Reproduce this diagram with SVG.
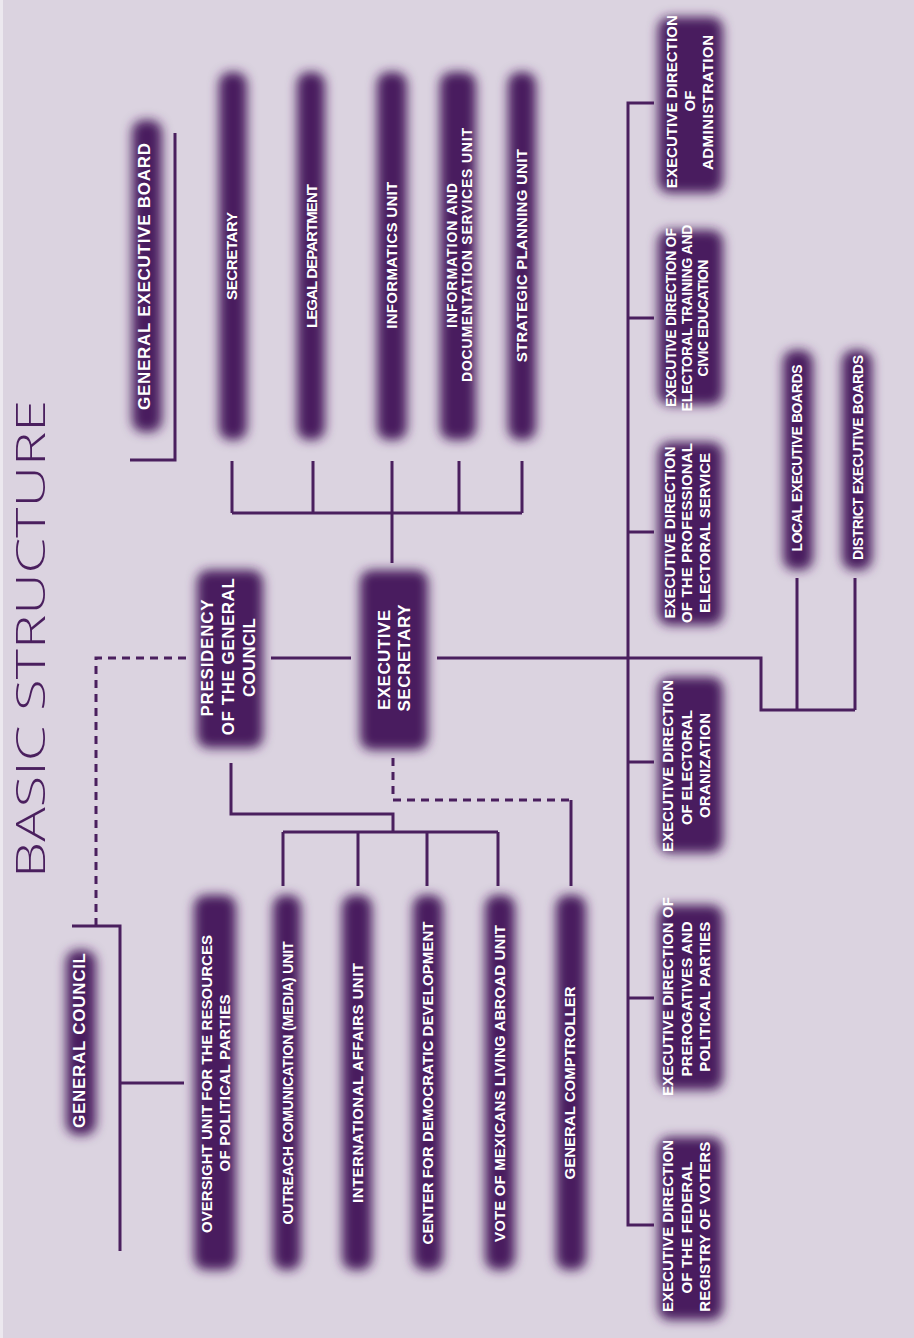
<svg xmlns="http://www.w3.org/2000/svg" width="914" height="1338" viewBox="0 0 914 1338">
<defs>
<filter id="soft" x="-0.8" y="-0.25" width="2.6" height="1.5">
<feGaussianBlur stdDeviation="5.5"/>
</filter>
<style>
.box{fill:#4a1b5e;filter:url(#soft);}
.t{font-family:"Liberation Sans",Arial,sans-serif;font-weight:bold;fill:#ffffff;text-anchor:middle;}
.ln{stroke:#4a1f5e;stroke-width:3;fill:none;}
.dash{stroke-dasharray:8 6;}
.title{font-family:"Open Sans","Liberation Sans",sans-serif;font-weight:300;fill:#4a1f5e;text-anchor:middle;}
</style>
</defs>
<rect x="0" y="0" width="914" height="1338" fill="#dbd3e0"/>
<rect x="0" y="0" width="3" height="1338" fill="#ece8ef"/>

<text class="title" font-size="41" transform="translate(45,639) rotate(-90)" textLength="478" lengthAdjust="spacingAndGlyphs">BASIC STRUCTURE</text>

<g id="connectors">
<path class="ln" d="M175,133 V460 H130"/>
<path class="ln" d="M232,461 V513 M313,461 V513 M392,461 V563 M459,461 V513 M522,461 V513 M232,513 H522"/>
<path class="ln" d="M271,658 H351"/>
<path class="ln" d="M437,658 H761 V710 H855 M797,578 V710 M855,578 V710"/>
<path class="ln dash" d="M186,658 H96 V926"/>
<path class="ln" d="M72,926 H120 V1251 M120,1083 H184"/>
<path class="ln" d="M231,763 V814 H393 V832 M283,832 H498 M283,832 V886 M358,832 V886 M427,832 V886 M498,832 V886"/>
<path class="ln dash" d="M393,758 V800 H571"/>
<path class="ln" d="M571,800 V886"/>
<path class="ln" d="M654,103 H628 V1225 H654 M628,318 H654 M628,532 H654 M628,762 H654 M628,998 H654"/>
</g>

<g id="general-executive-board">
<rect class="box" x="132" y="120" width="30" height="312" rx="12"/>
<text class="t" font-size="17" transform="translate(149.5,276.5) rotate(-90)" textLength="267" lengthAdjust="spacing">GENERAL EXECUTIVE BOARD</text>
</g>
<g id="secretary">
<rect class="box" x="219" y="72" width="28" height="368" rx="12"/>
<text class="t" font-size="15" transform="translate(237.3,256) rotate(-90)" textLength="88" lengthAdjust="spacing">SECRETARY</text>
</g>
<g id="legal-department">
<rect class="box" x="297" y="72" width="28" height="368" rx="12"/>
<text class="t" font-size="15" transform="translate(317.3,256) rotate(-90)" textLength="144" lengthAdjust="spacing">LEGAL DEPARTMENT</text>
</g>
<g id="informatics-unit">
<rect class="box" x="377" y="72" width="30" height="368" rx="12"/>
<text class="t" font-size="15" transform="translate(396.7,255.3) rotate(-90)" textLength="147" lengthAdjust="spacing">INFORMATICS UNIT</text>
</g>
<g id="information-documentation">
<rect class="box" x="440" y="72" width="36" height="368" rx="12"/>
<text class="t" font-size="14" transform="translate(456.7,255.5) rotate(-90)" textLength="145" lengthAdjust="spacing">INFORMATION AND</text>
<text class="t" font-size="14" transform="translate(471.7,255) rotate(-90)" textLength="254" lengthAdjust="spacing">DOCUMENTATION SERVICES UNIT</text>
</g>
<g id="strategic-planning">
<rect class="box" x="508" y="72" width="28" height="368" rx="12"/>
<text class="t" font-size="15" transform="translate(526.7,255.7) rotate(-90)" textLength="213" lengthAdjust="spacing">STRATEGIC PLANNING UNIT</text>
</g>

<g id="presidency">
<rect class="box" x="197" y="570" width="66" height="178" rx="12"/>
<text class="t" font-size="17" transform="translate(213.3,658) rotate(-90)" textLength="117" lengthAdjust="spacing">PRESIDENCY</text>
<text class="t" font-size="17" transform="translate(234,656.7) rotate(-90)" textLength="157" lengthAdjust="spacing">OF THE GENERAL</text>
<text class="t" font-size="17" transform="translate(255,657.5) rotate(-90)" textLength="79" lengthAdjust="spacing">COUNCIL</text>
</g>
<g id="executive-secretary">
<rect class="box" x="360" y="570" width="68" height="180" rx="12"/>
<text class="t" font-size="17" transform="translate(390,660) rotate(-90)" textLength="100" lengthAdjust="spacing">EXECUTIVE</text>
<text class="t" font-size="17" transform="translate(410,658) rotate(-90)" textLength="107" lengthAdjust="spacing">SECRETARY</text>
</g>

<g id="local-executive-boards">
<rect class="box" x="783" y="350" width="30" height="220" rx="12"/>
<text class="t" font-size="14" transform="translate(801.7,458) rotate(-90)" textLength="187" lengthAdjust="spacing">LOCAL EXECUTIVE BOARDS</text>
</g>
<g id="district-executive-boards">
<rect class="box" x="842" y="350" width="30" height="220" rx="12"/>
<text class="t" font-size="14" transform="translate(862.7,457.5) rotate(-90)" textLength="205" lengthAdjust="spacing">DISTRICT EXECUTIVE BOARDS</text>
</g>

<g id="ed-administration">
<rect class="box" x="658" y="17" width="65" height="176" rx="12"/>
<text class="t" font-size="15" transform="translate(677.3,101.7) rotate(-90)" textLength="173" lengthAdjust="spacing">EXECUTIVE DIRECTION</text>
<text class="t" font-size="15" transform="translate(695,101) rotate(-90)">OF</text>
<text class="t" font-size="15" transform="translate(713.3,102.5) rotate(-90)" textLength="135" lengthAdjust="spacing">ADMINISTRATION</text>
</g>
<g id="ed-training">
<rect class="box" x="658" y="230" width="65" height="175" rx="12"/>
<text class="t" font-size="14" transform="translate(676,317.5) rotate(-90)" textLength="179" lengthAdjust="spacing">EXECUTIVE DIRECTION OF</text>
<text class="t" font-size="14" transform="translate(691.7,318) rotate(-90)" textLength="187" lengthAdjust="spacing">ELECTORAL TRAINING AND</text>
<text class="t" font-size="14" transform="translate(708,318) rotate(-90)" textLength="117" lengthAdjust="spacing">CIVIC EDUCATION</text>
</g>
<g id="ed-professional">
<rect class="box" x="658" y="442" width="65" height="183" rx="12"/>
<text class="t" font-size="15" transform="translate(675,532.5) rotate(-90)" textLength="172" lengthAdjust="spacing">EXECUTIVE DIRECTION</text>
<text class="t" font-size="15" transform="translate(691.7,533) rotate(-90)" textLength="180" lengthAdjust="spacing">OF THE PROFESSIONAL</text>
<text class="t" font-size="15" transform="translate(710,533) rotate(-90)" textLength="160" lengthAdjust="spacing">ELECTORAL SERVICE</text>
</g>
<g id="ed-electoral-organization">
<rect class="box" x="658" y="677" width="65" height="176" rx="12"/>
<text class="t" font-size="15" transform="translate(673.3,766) rotate(-90)" textLength="172" lengthAdjust="spacing">EXECUTIVE DIRECTION</text>
<text class="t" font-size="15" transform="translate(691.7,767.5) rotate(-90)" textLength="115" lengthAdjust="spacing">OF ELECTORAL</text>
<text class="t" font-size="15" transform="translate(710,765.5) rotate(-90)" textLength="105" lengthAdjust="spacing">ORANIZATION</text>
</g>
<g id="ed-prerogatives">
<rect class="box" x="658" y="905" width="65" height="185" rx="12"/>
<text class="t" font-size="15" transform="translate(673.3,996.5) rotate(-90)" textLength="199" lengthAdjust="spacing">EXECUTIVE DIRECTION OF</text>
<text class="t" font-size="15" transform="translate(691.7,999) rotate(-90)" textLength="155" lengthAdjust="spacing">PREROGATIVES AND</text>
<text class="t" font-size="15" transform="translate(710,996.7) rotate(-90)" textLength="150" lengthAdjust="spacing">POLITICAL PARTIES</text>
</g>
<g id="ed-federal-registry">
<rect class="box" x="658" y="1137" width="65" height="183" rx="12"/>
<text class="t" font-size="15" transform="translate(673.3,1226) rotate(-90)" textLength="172" lengthAdjust="spacing">EXECUTIVE DIRECTION</text>
<text class="t" font-size="15" transform="translate(691.7,1227.5) rotate(-90)" textLength="132" lengthAdjust="spacing">OF THE FEDERAL</text>
<text class="t" font-size="15" transform="translate(710,1226.7) rotate(-90)" textLength="170" lengthAdjust="spacing">REGISTRY OF VOTERS</text>
</g>

<g id="general-council">
<rect class="box" x="66" y="950" width="30" height="185" rx="12"/>
<text class="t" font-size="17" transform="translate(85,1040.5) rotate(-90)" textLength="175" lengthAdjust="spacing">GENERAL COUNCIL</text>
</g>
<g id="oversight-unit">
<rect class="box" x="194" y="895" width="42" height="375" rx="12"/>
<text class="t" font-size="15" transform="translate(211.7,1084) rotate(-90)" textLength="298" lengthAdjust="spacing">OVERSIGHT UNIT FOR THE RESOURCES</text>
<text class="t" font-size="15" transform="translate(230,1083) rotate(-90)" textLength="177" lengthAdjust="spacing">OF POLITICAL PARTIES</text>
</g>
<g id="outreach-unit">
<rect class="box" x="273" y="895" width="28" height="375" rx="12"/>
<text class="t" font-size="14" transform="translate(292.7,1083) rotate(-90)" textLength="283" lengthAdjust="spacing">OUTREACH COMUNICATION (MEDIA) UNIT</text>
</g>
<g id="international-affairs">
<rect class="box" x="342" y="895" width="30" height="375" rx="12"/>
<text class="t" font-size="15" transform="translate(362.7,1083) rotate(-90)" textLength="240" lengthAdjust="spacing">INTERNATIONAL AFFAIRS UNIT</text>
</g>
<g id="democratic-development">
<rect class="box" x="413" y="895" width="30" height="375" rx="12"/>
<text class="t" font-size="15" transform="translate(433.3,1083) rotate(-90)" textLength="323" lengthAdjust="spacing">CENTER FOR DEMOCRATIC DEVELOPMENT</text>
</g>
<g id="vote-abroad">
<rect class="box" x="485" y="895" width="30" height="375" rx="12"/>
<text class="t" font-size="15" transform="translate(505,1083.5) rotate(-90)" textLength="317" lengthAdjust="spacing">VOTE OF MEXICANS LIVING ABROAD UNIT</text>
</g>
<g id="general-comptroller">
<rect class="box" x="556" y="895" width="30" height="375" rx="12"/>
<text class="t" font-size="15" transform="translate(575,1083) rotate(-90)" textLength="193" lengthAdjust="spacing">GENERAL COMPTROLLER</text>
</g>
</svg>
